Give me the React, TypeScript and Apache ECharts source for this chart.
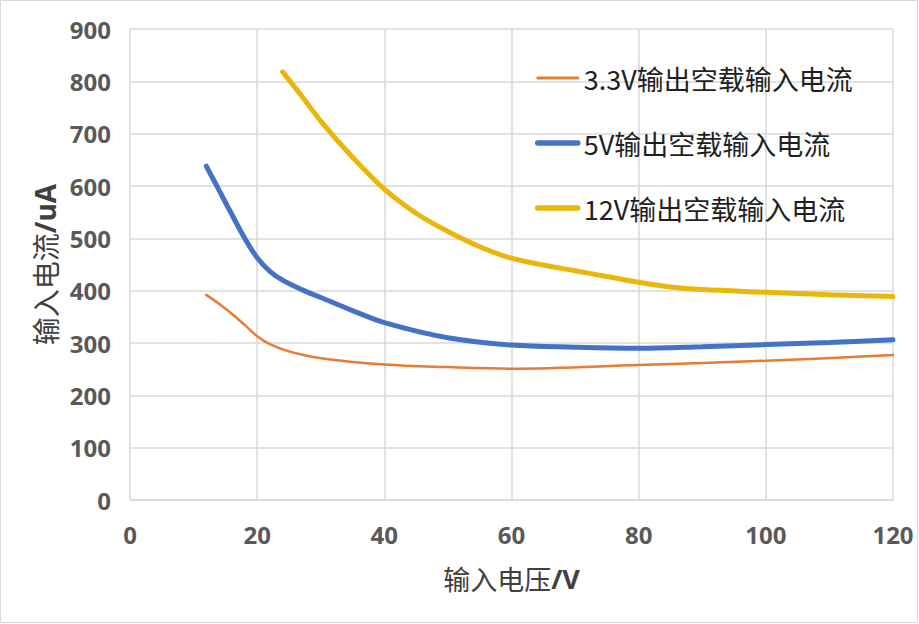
import React, { useEffect, useRef } from "react";
import * as echarts from "echarts";

const xTicks = [0, 20, 40, 60, 80, 100, 120];
const yTicks = [0, 100, 200, 300, 400, 500, 600, 700, 800, 900];

const seriesNames = ["3.3V输出空载输入电流", "5V输出空载输入电流", "12V输出空载输入电流"];

const x33 = [12, 14, 16, 18, 20, 22, 25, 30, 40, 50, 60, 80, 100, 120];
const y33 = [392, 375, 356, 335, 313, 298, 284, 271, 259, 254, 251, 258, 266, 277];

const x5 = [12, 14, 16, 18, 20, 22, 24, 27, 30, 35, 40, 50, 60, 70, 80, 90, 100, 110, 120];
const y5 = [638, 592, 546, 501, 463, 437, 420, 402, 387, 362, 339, 310, 296, 292, 290, 293, 297, 301, 306];

const x12 = [24, 27, 30, 35, 40, 45, 50, 55, 60, 65, 70, 75, 80, 85, 90, 100, 110, 120];
const y12 = [818, 772, 724, 655, 594, 548, 513, 484, 462, 449, 438, 427, 416, 407, 402, 397, 392, 389];

const colors = ["#E67D35", "#4472C4", "#E9B709"];
const widths = [2.5, 5, 5];

function pairs(xs: number[], ys: number[]) {
  return xs.map((x, i) => [x, ys[i]]);
}

export default function App() {
  const ref = useRef<HTMLDivElement>(null);
  useEffect(() => {
    document.body.style.margin = "0";
    const chart = echarts.init(ref.current!, undefined, { renderer: "svg" });
    const data = [pairs(x33, y33), pairs(x5, y5), pairs(x12, y12)];
    const tickLabel = {
      fontFamily: "Open Sans",
      fontWeight: "bold",
      fontSize: 24,
      color: "#595959",
    };
    chart.setOption({
      animation: false,
      backgroundColor: "#ffffff",
      graphic: [
        {
          type: "rect",
          shape: { x: 0.5, y: 0.5, width: 917, height: 622 },
          style: { fill: "none", stroke: "#D9D9D9", lineWidth: 1 },
          silent: true,
        },
      ],
      grid: { left: 130, right: 26, top: 29, bottom: 124, containLabel: false },
      legend: {
        orient: "vertical",
        left: 530,
        top: 58,
        itemWidth: 40,
        itemHeight: 14,
        itemGap: 35,
        data: seriesNames.map((n, i) => ({
          name: n,
          lineStyle: { width: i === 0 ? 3 : 5.5, color: colors[i], cap: "round" },
        })),
        itemStyle: { color: "rgba(0,0,0,0)", borderColor: "rgba(0,0,0,0)", borderWidth: 0 },
        textStyle: {
          fontFamily: "Noto Sans CJK SC",
          fontSize: 27,
          color: "#1f1f1f",
          lineHeight: 30,
          padding: [0, 0, 0, 1],
        },
      },
      xAxis: {
        type: "value",
        min: xTicks[0],
        max: xTicks[xTicks.length - 1],
        interval: 20,
        name: "{a|输入电压}{b|/V}",
        nameLocation: "middle",
        nameGap: 65,
        nameTextStyle: {
          color: "#404040",
          rich: {
            a: { fontFamily: "Noto Sans CJK SC", fontSize: 27, color: "#404040" },
            b: { fontFamily: "Open Sans", fontWeight: "bold", fontSize: 27, color: "#404040" },
          },
        },
        axisLine: { show: true, lineStyle: { color: "#D9D9D9", width: 1.5 } },
        axisTick: { show: false },
        splitLine: { show: true, lineStyle: { color: "#D9D9D9", width: 1.5 } },
        axisLabel: { margin: 22, ...tickLabel },
      },
      yAxis: {
        type: "value",
        min: yTicks[0],
        max: yTicks[yTicks.length - 1],
        interval: 100,
        name: "{a|输入电流}{b|/uA}",
        nameLocation: "middle",
        nameGap: 71,
        nameRotate: 90,
        nameTextStyle: {
          color: "#404040",
          rich: {
            a: { fontFamily: "Noto Sans CJK SC", fontSize: 28, color: "#404040" },
            b: { fontFamily: "Open Sans", fontWeight: "bold", fontSize: 28, color: "#404040" },
          },
        },
        axisLine: { show: false },
        axisTick: { show: false },
        splitLine: { show: true, lineStyle: { color: "#D9D9D9", width: 1.5 } },
        axisLabel: { margin: 19, ...tickLabel },
      },
      series: seriesNames.map((name, i) => ({
        name,
        type: "line",
        data: data[i],
        smooth: 0.35,
        symbol: "none",
        showSymbol: false,
        lineStyle: { color: colors[i], width: widths[i], cap: "round" },
        itemStyle: { color: colors[i] },
        z: 3 + i,
      })),
    });
    return () => chart.dispose();
  }, []);
  return (
    <div
      ref={ref}
      style={{ position: "absolute", left: 0, top: 0, width: 919, height: 624 }}
    />
  );
}
